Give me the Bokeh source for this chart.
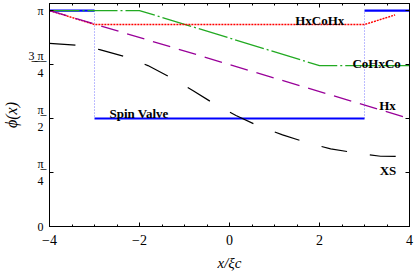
import numpy as np
from math import pi
from bokeh.plotting import figure
from bokeh.models import Label, FixedTicker, LinearAxis, Range1d
from bokeh.embed import file_html
from bokeh.resources import INLINE

# ---------------- data ----------------
x_ticks = [-4, -2, 0, 2, 4]
x_tick_labels = ["\u22124", "\u22122", "0", "2", "4"]
x_minor_ticks = [-4, -3.5, -3, -2.5, -2, -1.5, -1, -0.5, 0, 0.5, 1, 1.5, 2, 2.5, 3, 3.5, 4]
y_ticks = [0, pi / 4, pi / 2, 3 * pi / 4, pi]
UL = "\u0332"  # combining low line -> fraction bar under the numerator
y_tick_labels = ["0", "\u03c0" + UL + "\n4", "\u03c0" + UL + "\n2",
                 "3" + UL + " " + UL + "\u03c0" + UL + "\n4", "\u03c0"]

spin_valve_x = [-4, -3, -3, 3, 3, 4]
spin_valve_y = [pi, pi, pi / 2, pi / 2, pi, pi]

hxcohx_x = [-4, -3, 3, 3.68]
hxcohx_y = [pi, 2.938, 2.938, 3.078]

cohxco_x = [-4, -2, 2, 4]
cohxco_y = [pi, pi, 2.34, 2.34]

hx_x = [-4, 4]
hx_y = [pi, pi / 2]

xs_x = [-4.0, -3.4, -2.885, -2.33, -1.813, -1.296, -0.816, -0.337, 0.144, 0.66,
        1.179, 1.733, 2.249, 2.841, 3.357, 4.0]
xs_y = [2.665, 2.636, 2.574, 2.472, 2.341, 2.162, 1.978, 1.784, 1.614, 1.458,
        1.333, 1.217, 1.13, 1.066, 1.022, 1.018]

# ---------------- figure ----------------
p = figure(width=415, height=274, output_backend="svg", toolbar_location=None,
           x_range=Range1d(-4, 4), y_range=Range1d(0, 3.244),
           min_border_left=48, min_border_right=6, min_border_top=3, min_border_bottom=48)
p.xgrid.visible = False
p.ygrid.visible = False
p.outline_line_color = "black"
p.outline_line_width = 1
p.background_fill_color = "white"
p.border_fill_color = "white"


def style_axis(ax):
    ax.axis_line_color = "black"
    ax.axis_line_width = 1
    ax.major_tick_in = 4
    ax.major_tick_out = 0
    ax.minor_tick_in = 2
    ax.minor_tick_out = 0
    ax.major_tick_line_color = "black"
    ax.minor_tick_line_color = "black"


xa = p.xaxis[0]
xa.ticker = FixedTicker(ticks=x_ticks, minor_ticks=x_minor_ticks)
style_axis(xa)
xa.major_label_overrides = {t: l for t, l in zip(x_ticks, x_tick_labels)}
xa.major_label_text_font = "Liberation Serif"
xa.major_label_text_font_size = "14px"
xa.major_label_text_color = "black"
xa.major_label_standoff = 8
xa.axis_label = "x/\u03bec"
xa.axis_label_text_font = "Liberation Serif"
xa.axis_label_text_font_style = "italic"
xa.axis_label_text_font_size = "15px"
xa.axis_label_text_color = "black"
xa.axis_label_standoff = 7

ya = p.yaxis[0]
ya.ticker = FixedTicker(ticks=y_ticks, minor_ticks=[])
style_axis(ya)
ya.major_label_overrides = {t: l for t, l in zip(y_ticks, y_tick_labels)}
ya.major_label_text_font = "Liberation Serif"
ya.major_label_text_font_size = "12px"
ya.major_label_text_color = "black"
ya.major_label_standoff = 6
ya.axis_label = "\u03d5(x)"
ya.axis_label_text_font = "Liberation Serif"
ya.axis_label_text_font_style = "italic"
ya.axis_label_text_font_size = "16px"
ya.axis_label_text_color = "black"
ya.axis_label_standoff = 5

top = LinearAxis(ticker=FixedTicker(ticks=x_ticks, minor_ticks=x_minor_ticks))
style_axis(top)
top.major_label_overrides = {t: "" for t in x_ticks}
top.major_label_standoff = 0
p.add_layout(top, "above")

right = LinearAxis(ticker=FixedTicker(ticks=y_ticks, minor_ticks=[]))
style_axis(right)
right.major_label_overrides = {t: "" for t in y_ticks}
right.major_label_standoff = 0
p.add_layout(right, "right")

# ---------------- curves ----------------
hx0, hy0, hx1, hy1 = [], [], [], []
vx0, vy0, vx1, vy1 = [], [], [], []
for i in range(len(spin_valve_x) - 1):
    a, b = spin_valve_x[i], spin_valve_x[i + 1]
    c, d = spin_valve_y[i], spin_valve_y[i + 1]
    if a == b:
        vx0.append(a); vy0.append(c); vx1.append(b); vy1.append(d)
    else:
        hx0.append(a); hy0.append(c); hx1.append(b); hy1.append(d)
p.segment(hx0, hy0, hx1, hy1, line_color="#0000ff", line_width=2.2)
p.segment(vx0, vy0, vx1, vy1, line_color="#4444ff", line_width=0.9, line_dash="1 2", line_alpha=0.8)

p.line(cohxco_x, cohxco_y, line_color="#22aa22", line_width=1.3, line_dash="30 3 2 3")
p.line(hxcohx_x, hxcohx_y, line_color="#ff0000", line_width=1.4, line_dash="2 1")
p.line(hx_x, hx_y, line_color="#990099", line_width=1.3, line_dash="18 9")
p.line(xs_x, xs_y, line_color="black", line_width=1.2, line_dash="26 23")

# ---------------- curve labels ----------------
lab_font = dict(text_font="Liberation Serif", text_font_style="bold", text_font_size="13px",
                text_color="black", text_align="center", text_baseline="alphabetic")
for txt, x, y in [("HxCoHx", 2.006, 2.996), ("CoHxCo", 3.269, 2.371), ("Hx", 3.512, 1.760),
                  ("XS", 3.523, 0.815), ("Spin Valve", -2.010, 1.640)]:
    p.add_layout(Label(x=x, y=y, text=txt, **lab_font))

open("out.html", "w").write(file_html(p, INLINE))
